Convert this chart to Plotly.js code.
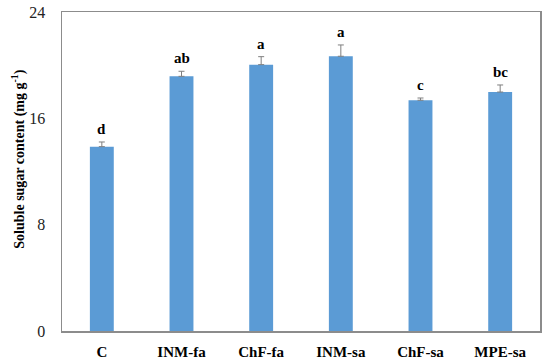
<!DOCTYPE html>
<html>
<head>
<meta charset="utf-8">
<script src="https://cdn.plot.ly/plotly-3.0.1.min.js"></script>
<style>html,body{margin:0;padding:0;background:#fff;}#chart{width:550px;height:362px;}</style>
</head>
<body>
<div id="chart"></div>
<script>
const categories = ["C", "INM-fa", "ChF-fa", "INM-sa", "ChF-sa", "MPE-sa"];
const values = [13.87, 19.16, 20.04, 20.67, 17.36, 17.98];
const errors = [0.35, 0.38, 0.6, 0.85, 0.17, 0.53];
const letters = ["d", "ab", "a", "a", "c", "bc"];
const yTicks = [0, 8, 16, 24];

const serif = "'Liberation Serif', 'Times New Roman', serif";

const trace = {
  type: "bar",
  x: categories,
  y: values,
  width: 0.3,
  marker: {color: "#5B9BD5"},
  error_y: {type: "data", array: errors, symmetric: false, arrayminus: errors.map(() => 0), visible: true, color: "#7f7f7f", thickness: 1, width: 3},
  hoverinfo: "skip"
};

const letterAnn = categories.map((c, i) => ({
  x: c, y: values[i] + errors[i], xref: "x", yref: "y",
  text: letters[i], showarrow: false, yanchor: "bottom", yshift: 3,
  font: {family: serif, size: 15, color: "#000", weight: "bold"}
}));

letterAnn.push({
  xref: "paper", yref: "paper", x: -0.09, y: 0.54,
  text: "Soluble sugar content (mg g<sup>-1</sup>)",
  textangle: -90, showarrow: false, xanchor: "center", yanchor: "middle",
  font: {family: serif, size: 14, color: "#000", weight: "bold"}
});

const layout = {
  width: 550, height: 362,
  margin: {l: 62, r: 10, t: 12, b: 31},
  paper_bgcolor: "#fff", plot_bgcolor: "#fff",
  showlegend: false,
  xaxis: {
    type: "category", range: [-0.5, 5.5],
    showline: true, linecolor: "#8c8c8c", linewidth: 1.5, mirror: true,
    showgrid: false, zeroline: false,
    ticks: "outside", ticklen: 6, tickcolor: "rgba(0,0,0,0)",
    tickfont: {family: serif, size: 15, color: "#000", weight: "bold"}
  },
  yaxis: {
    range: [0, 24], tickvals: yTicks, ticktext: yTicks.map(String),
    showline: true, linecolor: "#8c8c8c", linewidth: 1.5, mirror: true,
    showgrid: false, zeroline: false,
    ticks: "outside", ticklen: 12, tickcolor: "rgba(0,0,0,0)",
    tickfont: {family: serif, size: 16, color: "#222"}
  },
  annotations: letterAnn
};

Plotly.newPlot("chart", [trace], layout, {displayModeBar: false, staticPlot: true});
</script>
</body>
</html>
